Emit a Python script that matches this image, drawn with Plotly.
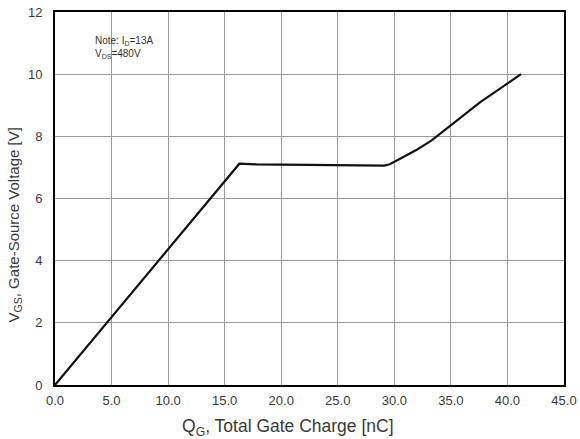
import plotly.graph_objects as go

# Gate charge curve
qg = [0.0, 16.3, 17.8, 23.0, 29.1, 29.6, 30.0, 31.0, 31.9, 33.3, 34.9, 37.6, 41.2]
vgs = [0.0, 7.12, 7.10, 7.09, 7.06, 7.10, 7.18, 7.36, 7.55, 7.87, 8.33, 9.10, 10.0]

x_ticks = [0, 5, 10, 15, 20, 25, 30, 35, 40, 45]
x_tick_labels = ["0.0", "5.0", "10.0", "15.0", "20.0", "25.0", "30.0", "35.0", "40.0", "45.0"]
y_ticks = [0, 2, 4, 6, 8, 10, 12]

font = "Liberation Sans, Arial, sans-serif"
txt = "#3a3a3a"

fig = go.Figure()
fig.add_trace(go.Scatter(x=qg, y=vgs, mode="lines",
                         line=dict(color="#111111", width=2.2),
                         showlegend=False, hoverinfo="skip"))

fig.add_annotation(x=0.075, y=0.945, xref="paper", yref="paper", xanchor="left", yanchor="top",
                   text="Note: I<sub>D</sub>=13A<br>V<sub>DS</sub>=480V", showarrow=False, align="left",
                   font=dict(family=font, size=10, color="#333333"))

# axis titles placed as in the reference
fig.add_annotation(x=0.458, y=-0.113, xref="paper", yref="paper", xanchor="center", yanchor="middle",
                   text="Q<sub>G</sub>, Total Gate Charge [nC]", showarrow=False,
                   font=dict(family=font, size=17.5, color=txt))
fig.add_annotation(x=-0.079, y=0.43, xref="paper", yref="paper", xanchor="center", yanchor="middle",
                   text="V<sub>GS</sub>, Gate-Source Voltage [V]", showarrow=False, textangle=-90,
                   font=dict(family=font, size=15, color=txt))

fig.update_layout(
    width=580, height=439,
    margin=dict(l=55, r=16, t=12, b=54, autoexpand=False),
    paper_bgcolor="white", plot_bgcolor="white",
    font=dict(family=font, color=txt),
    xaxis=dict(range=[0, 45], tickvals=x_ticks, ticktext=x_tick_labels, automargin=False,
               showgrid=True, gridcolor="#9a9a9a", gridwidth=1,
               showline=True, linecolor="black", linewidth=2, mirror=True,
               zeroline=False, ticks="", ticklabelstandoff=2, tickfont=dict(size=13, color=txt)),
    yaxis=dict(range=[0, 12], tickvals=y_ticks, automargin=False,
               showgrid=True, gridcolor="#9a9a9a", gridwidth=1,
               showline=True, linecolor="black", linewidth=2, mirror=True,
               zeroline=False, ticks="", ticklabelstandoff=8, tickfont=dict(size=13, color=txt)),
)

fig.write_html("out.html", config={"displayModeBar": False},
               post_script="document.body.style.margin='0px';document.body.style.overflow='hidden';")
